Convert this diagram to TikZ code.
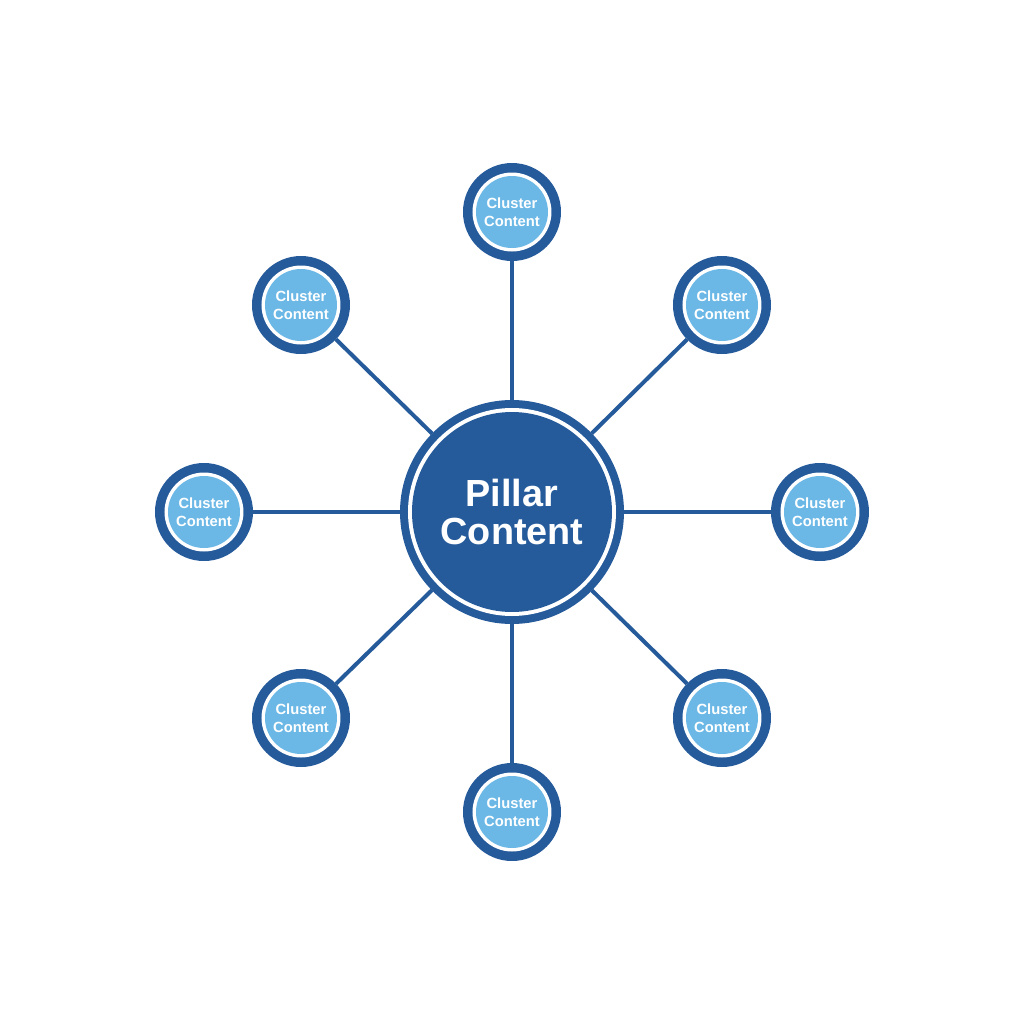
\documentclass[tikz,border=0pt]{standalone}
\usepackage{fontspec}
\setmainfont{Liberation Sans}
\definecolor{pillarblue}{HTML}{255A9B}
\definecolor{clusterblue}{HTML}{6BB8E6}
\tikzset{
	pillar/.style={circle, fill=pillarblue, minimum size=4.48cm, inner sep=0pt, outer sep=0pt,
		text=white, align=center, font=\bfseries\fontsize{21.5}{22}\selectfont,
		path picture={
			\fill[white] (path picture bounding box.center) circle (2.08);
			\fill[pillarblue] (path picture bounding box.center) circle (2.0);
		}},
	cluster/.style={circle, fill=pillarblue, minimum size=1.96cm, inner sep=0pt, outer sep=0pt,
		text=white, align=center, font=\bfseries\fontsize{8.4}{10.2}\selectfont,
		path picture={
			\fill[white] (path picture bounding box.center) circle (0.79);
			\fill[clusterblue] (path picture bounding box.center) circle (0.72);
		}},
	link/.style={pillarblue, line width=0.08cm}
}
\begin{document}
\begin{tikzpicture}
	% Rahmen (1024 x 1024 px)
	\fill[white] (-10.24,-10.24) rectangle (10.24,10.24);

	% Pillar
	\node[pillar] (pillar) at (0,0) {Pillar\\Content};

	% Cluster
	\node[cluster] (top) at (0,6.0) {Cluster\\Content};
	\node[cluster] (topleft) at (-4.22,4.14) {Cluster\\Content};
	\node[cluster] (topright) at (4.20,4.14) {Cluster\\Content};
	\node[cluster] (left) at (-6.16,0) {Cluster\\Content};
	\node[cluster] (right) at (6.16,0) {Cluster\\Content};
	\node[cluster] (bottomleft) at (-4.22,-4.12) {Cluster\\Content};
	\node[cluster] (bottomright) at (4.20,-4.12) {Cluster\\Content};
	\node[cluster] (bottom) at (0,-6.0) {Cluster\\Content};

	% Verbindungen
	\draw[link] (pillar) -- (top);
	\draw[link] (pillar) -- (topleft);
	\draw[link] (pillar) -- (topright);
	\draw[link] (pillar) -- (left);
	\draw[link] (pillar) -- (right);
	\draw[link] (pillar) -- (bottomleft);
	\draw[link] (pillar) -- (bottomright);
	\draw[link] (pillar) -- (bottom);
\end{tikzpicture}
\end{document}
